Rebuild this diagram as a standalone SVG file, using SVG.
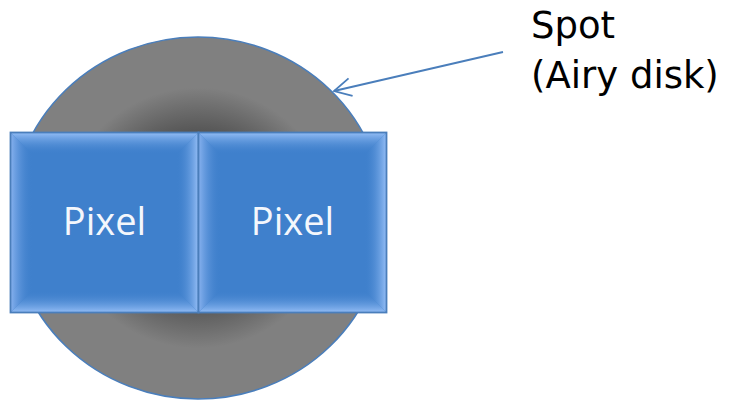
<svg xmlns="http://www.w3.org/2000/svg" width="729" height="401" viewBox="0 0 729 401">
  <style>
    .pix-base { fill: #3f80cc; stroke: none; }
    .pix-edge { fill: none; stroke: #4a7ebb; stroke-width: 1.8; }
    .pix-label { font-family: "Open Sans", "Noto Sans", "Liberation Sans", sans-serif; font-size: 38px; fill: #f4f7fc; text-anchor: middle; }
    .note { font-family: "DejaVu Sans", "Liberation Sans", sans-serif; font-size: 37px; fill: #000000; }
    .pointer { fill: none; stroke: #4a7ebb; stroke-width: 1.8; }
  </style>
  <defs>
    <!-- dark core fading out to mid grey -->
    <radialGradient id="spotFill" cx="0.5" cy="0.5" r="0.5">
      <stop offset="0" stop-color="#1e1e1e"/>
      <stop offset="0.25" stop-color="#3a3a3a"/>
      <stop offset="0.47" stop-color="#555555"/>
      <stop offset="0.72" stop-color="#808080"/>
      <stop offset="1" stop-color="#808080"/>
    </radialGradient>
    <!-- bevel bands: light at outer edge, fading into the face colour -->
    <linearGradient id="bevTop" x1="0" y1="0" x2="0" y2="1">
      <stop offset="0" stop-color="#95bef6"/>
      <stop offset="1" stop-color="#3f80cc" stop-opacity="0"/>
    </linearGradient>
    <linearGradient id="bevBottom" x1="0" y1="1" x2="0" y2="0">
      <stop offset="0" stop-color="#95bef6"/>
      <stop offset="1" stop-color="#3f80cc" stop-opacity="0"/>
    </linearGradient>
    <linearGradient id="bevLeft" x1="0" y1="0" x2="1" y2="0">
      <stop offset="0" stop-color="#88b2ef"/>
      <stop offset="1" stop-color="#3f80cc" stop-opacity="0"/>
    </linearGradient>
    <linearGradient id="bevRight" x1="1" y1="0" x2="0" y2="0">
      <stop offset="0" stop-color="#95bef6"/>
      <stop offset="1" stop-color="#3f80cc" stop-opacity="0"/>
    </linearGradient>
    <marker id="openHead" viewBox="-20 -12 24 24" markerWidth="24" markerHeight="24" refX="0" refY="0" orient="auto" markerUnits="userSpaceOnUse">
      <path d="M-17,-9 L0,0 L-17,9" fill="none" stroke="#4a7ebb" stroke-width="1.8"/>
    </marker>
    <!-- one bevelled square, 188 x 180 -->
    <g id="pixelTile">
      <rect class="pix-base" x="0" y="0" width="188" height="180"/>
      <polygon points="0,0 188,0 166,22 22,22" fill="url(#bevTop)"/>
      <polygon points="0,180 188,180 166,158 22,158" fill="url(#bevBottom)"/>
      <polygon points="0,0 22,22 22,158 0,180" fill="url(#bevLeft)"/>
      <polygon points="188,0 166,22 166,158 188,180" fill="url(#bevRight)"/>
      <rect class="pix-edge" x="0" y="0" width="188" height="180"/>
    </g>
  </defs>

  <g id="spot">
    <ellipse cx="198" cy="218" rx="187" ry="181" fill="url(#spotFill)" stroke="#4a7ebb" stroke-width="1.6"/>
  </g>

  <g id="pixel-left" transform="translate(10.5,132.5)">
    <use href="#pixelTile"/>
    <text class="pix-label" x="94" y="102.5">Pixel</text>
  </g>

  <g id="pixel-right" transform="translate(198.5,132.5)">
    <use href="#pixelTile"/>
    <text class="pix-label" x="94" y="102.5">Pixel</text>
  </g>

  <g id="spot-label">
    <text class="note" x="531" y="38">Spot</text>
    <text class="note" x="531" y="88">(Airy disk)</text>
  </g>

  <g id="connectors">
    <line class="pointer" x1="503" y1="52" x2="334" y2="91" marker-end="url(#openHead)"/>
  </g>
</svg>
